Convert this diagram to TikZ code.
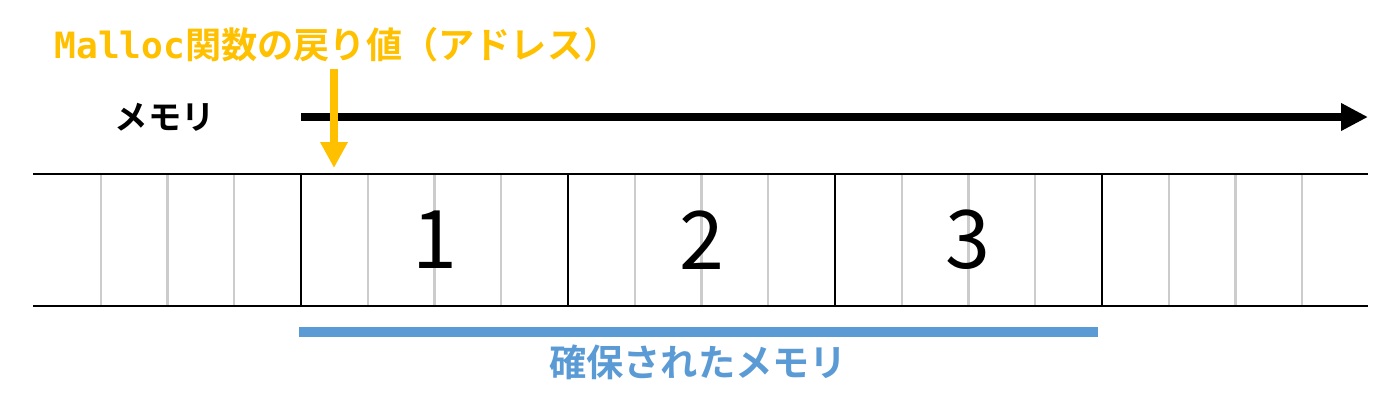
\documentclass[tikz,border=0pt]{standalone}
\usepackage{fontspec}
\setmainfont{Noto Sans CJK JP}[BoldFont={Noto Sans CJK JP Bold}]
\newfontfamily\codefont{DejaVu Sans Mono}[BoldFont={DejaVu Sans Mono Bold}]
\usetikzlibrary{positioning, arrows.meta}
\definecolor{retorange}{HTML}{FFC000}
\definecolor{allocblue}{HTML}{5B9BD5}
\definecolor{cellgray}{HTML}{CCCCCC}
\tikzset{
    x=0.02cm, y=-0.02cm, % one unit is one pixel of the reference
    block/.style={draw, line width=1.1pt, minimum width=5.34cm, minimum height=2.64cm, inner sep=0pt, outer sep=0pt, font=\fontsize{46}{46}\selectfont}, % one allocated block
    cellline/.style={cellgray, line width=1.2pt}, % thin lines between bytes
    stripline/.style={line width=1.1pt}, % top and bottom of the memory strip
    memarrow/.style={line width=5.1pt, -{Triangle[length=0.54cm, width=0.52cm]}},
    retarrow/.style={retorange, line width=4.5pt, -{Triangle[length=0.52cm, width=0.52cm]}},
}
\begin{document}
\begin{tikzpicture}
    \useasboundingbox (0,0) rectangle (1396,406);
    % byte lines
    \foreach \i in {-3,-2,-1,1,2,3,5,6,7,9,10,11,13,14,15}
        \draw[cellline] (301+66.75*\i,174) -- (301+66.75*\i,306);
    \coordinate (stl) at (33,174);
    \coordinate (str) at (1368,174);
    \coordinate (sbl) at (33,306);
    \coordinate (sbr) at (1368,306);
    \draw[stripline] (stl) -- (str) (sbl) -- (sbr);
    \node[block] (b1) at (434.5,240) {1};
    \node[block, right=0pt of b1] (b2) {2};
    \node[block, right=0pt of b2] (b3) {3};
    % memory axis
    \coordinate (ms) at (301,117);
    \coordinate (me) at (1368,117);
    \draw[memarrow] (ms) -- (me);
    \node[left=1.6cm of ms, font=\bfseries\fontsize{19}{19}\selectfont] (mem) {メモリ};
    % return value of malloc
    \node[retorange, font=\bfseries\fontsize{20.6}{20.6}\selectfont] (ret) at (337,45) {{\codefont\bfseries Malloc}関数の戻り値（アドレス）};
    \coordinate (rettip) at (334,168);
    \draw[retarrow] (ret.south -| rettip) -- (rettip);
    % allocated range
    \coordinate (al) at (299,332);
    \coordinate (ar) at (1098,332);
    \draw[allocblue, line width=0.2cm] (al) -- (ar);
    \node[allocblue, font=\bfseries\fontsize{21.2}{21.2}\selectfont] (alloc) at (698,362) {確保されたメモリ};
\end{tikzpicture}
\end{document}
